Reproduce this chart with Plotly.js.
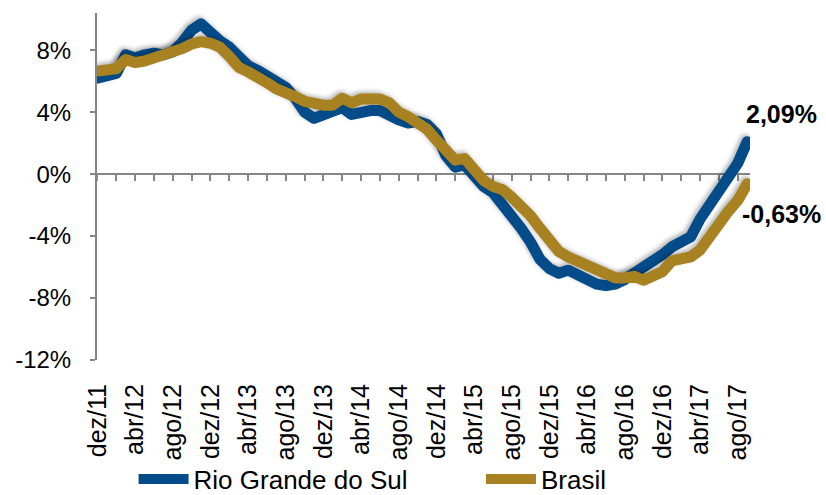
<!DOCTYPE html>
<html>
<head>
<meta charset="utf-8">
<script src="https://cdn.plot.ly/plotly-3.0.1.min.js"></script>
<style>
  html, body { margin: 0; padding: 0; background: #fff; }
  #chart { width: 826px; height: 495px; }
  .scatterlayer .js-line {
    stroke-linejoin: round !important;
    stroke-linecap: round !important;
    filter: drop-shadow(-2px -2px 2px rgba(0,0,0,0.28));
  }
</style>
</head>
<body>
<div id="chart"></div>
<script>
const categories = [
  "dez/11",
  "jan/12","fev/12","mar/12","abr/12","mai/12","jun/12","jul/12","ago/12","set/12","out/12","nov/12","dez/12",
  "jan/13","fev/13","mar/13","abr/13","mai/13","jun/13","jul/13","ago/13","set/13","out/13","nov/13","dez/13",
  "jan/14","fev/14","mar/14","abr/14","mai/14","jun/14","jul/14","ago/14","set/14","out/14","nov/14","dez/14",
  "jan/15","fev/15","mar/15","abr/15","mai/15","jun/15","jul/15","ago/15","set/15","out/15","nov/15","dez/15",
  "jan/16","fev/16","mar/16","abr/16","mai/16","jun/16","jul/16","ago/16","set/16","out/16","nov/16","dez/16",
  "jan/17","fev/17","mar/17","abr/17","mai/17","jun/17","jul/17","ago/17","set/17"
];

const rioGrandeDoSul = [
  6.2, 6.3, 6.5, 7.7, 7.5, 7.7, 7.8, 7.7, 7.9, 8.5, 9.3, 9.7, 9.1,
  8.6, 8.2, 7.5, 7.0, 6.7, 6.3, 5.9, 5.6, 4.9, 4.0, 3.6, 3.8,
  4.0, 4.3, 3.85, 4.0, 4.1, 4.1, 3.7, 3.5, 3.3, 3.4, 3.2, 2.6,
  1.2, 0.45, 0.6, -0.25, -0.8, -1.2, -1.9, -2.8, -3.5, -4.4, -5.5, -6.1,
  -6.4, -6.2, -6.5, -6.8, -7.1, -7.2, -7.1, -6.8, -6.4, -6.2, -5.7, -5.2,
  -4.7, -4.4, -4.05, -2.9, -2.0, -1.25, -0.4, 0.7, 2.09
];

const brasil = [
  6.65, 6.7, 6.8, 7.4, 7.2, 7.3, 7.5, 7.6, 7.8, 8.1, 8.4, 8.55, 8.45,
  8.2, 7.6, 6.9, 6.6, 6.3, 5.9, 5.5, 5.3, 5.0, 4.7, 4.5, 4.45,
  4.45, 4.9, 4.6, 4.85, 4.85, 4.85, 4.6, 4.0, 3.7, 3.3, 2.9, 2.2,
  1.6, 0.9, 1.0, 0.25, -0.4, -0.8, -1.0, -1.5, -2.0, -2.7, -3.5, -4.3,
  -5.0, -5.35, -5.65, -5.9, -6.2, -6.45, -6.7, -6.7, -6.6, -6.85, -6.6, -6.3,
  -5.6, -5.4, -5.35, -4.9, -4.0, -3.2, -2.4, -1.7, -0.63
];

const seriesNames = ["Rio Grande do Sul", "Brasil"];
const yTickVals = [-12, -8, -4, 0, 4, 8];
const yTickText = ["-12%", "-8%", "-4%", "0%", "4%", "8%"];
const xTickLabels = categories.filter((c, i) => i % 4 === 0);
const xMinorTicks = categories.filter((c, i) => i % 2 === 0);

const BLUE = "#034c89";
const GOLD = "#a88220";
const AXIS = "#868686";
const FONT = "Liberation Sans, Arial, sans-serif";
const yRange = [-12, 10.4];
const xRange = [-0.05, 69.3];

const fmt = v => v.toFixed(2).replace(".", ",") + "%";
const last = categories[categories.length - 1];

const traces = [
  // carrier for the zero-crossing category axis (no visible marks)
  { x: categories, y: categories.map(() => null), xaxis: "x2", yaxis: "y", type: "scatter", mode: "lines",
    showlegend: false, hoverinfo: "skip", line: { width: 0 } },
  { x: categories, y: rioGrandeDoSul, name: seriesNames[0], type: "scatter", mode: "lines",
    line: { color: BLUE, width: 11 }, hoverinfo: "skip", legend: "legend" },
  { x: categories, y: brasil, name: seriesNames[1], type: "scatter", mode: "lines",
    line: { color: GOLD, width: 11 }, hoverinfo: "skip", legend: "legend2" }
];

const legendCommon = {
  orientation: "h", xanchor: "left", y: -0.343, yanchor: "middle",
  font: { family: FONT, size: 26, color: "#000" }, bgcolor: "rgba(0,0,0,0)",
  itemwidth: 50
};

const layout = {
  width: 826, height: 495,
  margin: { l: 97, r: 76, t: 13, b: 135, autoexpand: false },
  paper_bgcolor: "#fff", plot_bgcolor: "#fff",
  font: { family: FONT, size: 24, color: "#000" },
  showlegend: true,
  legend: Object.assign({}, legendCommon, { x: 0.056 }),
  legend2: Object.assign({}, legendCommon, { x: 0.588 }),
  xaxis: {
    type: "category", categoryarray: categories, range: xRange, automargin: false,
    tickvals: xTickLabels, ticktext: xTickLabels, tickangle: -90,
    ticks: "", showline: false, showgrid: false, zeroline: false,
    tickfont: { family: FONT, size: 25, color: "#000" }, ticklabelstandoff: 18
  },
  xaxis2: {
    overlaying: "x", anchor: "free", automargin: false,
    position: (0 - yRange[0]) / (yRange[1] - yRange[0]),
    type: "category", categoryarray: categories, range: xRange,
    tickvals: xMinorTicks, ticks: "outside", ticklen: 6, tickwidth: 2, tickcolor: AXIS,
    showticklabels: false, showline: true, linecolor: AXIS, linewidth: 2,
    showgrid: false, zeroline: false, layer: "below traces"
  },
  yaxis: {
    range: yRange, tickvals: yTickVals, ticktext: yTickText, automargin: false,
    showline: true, linecolor: AXIS, linewidth: 2,
    ticks: "outside", ticklen: 5, tickwidth: 2, tickcolor: AXIS,
    showgrid: false, zeroline: false, ticklabelstandoff: 14,
    tickfont: { family: FONT, size: 24, color: "#000" }, layer: "below traces"
  },
  annotations: [
    { x: last, y: rioGrandeDoSul[rioGrandeDoSul.length - 1], text: "<b>" + fmt(rioGrandeDoSul[rioGrandeDoSul.length - 1]) + "</b>",
      showarrow: false, xshift: 34, yshift: 28, font: { family: FONT, size: 25, color: "#000" } },
    { x: last, y: brasil[brasil.length - 1], text: "<b>" + fmt(brasil[brasil.length - 1]) + "</b>",
      showarrow: false, xshift: 34, yshift: -30, font: { family: FONT, size: 25, color: "#000" } }
  ]
};

Plotly.newPlot("chart", traces, layout, { staticPlot: true, displayModeBar: false });
</script>
</body>
</html>
